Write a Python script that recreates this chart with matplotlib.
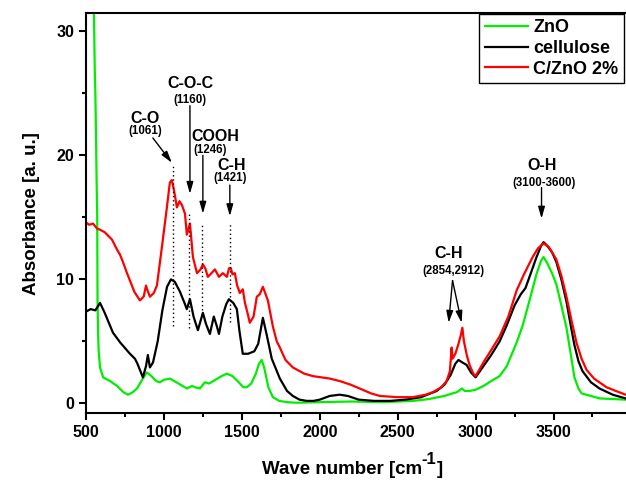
import matplotlib
matplotlib.use("Agg")
import matplotlib.pyplot as plt
from matplotlib.ticker import MultipleLocator, FixedLocator

plt.rcParams['font.family'] = ['Liberation Sans', 'DejaVu Sans']
plt.rcParams['font.weight'] = 'bold'

# --- data ---
zno_x = [545, 551, 556, 560, 564, 568, 572, 574, 578, 581, 590, 610, 654, 700, 740, 770, 800, 827,
         860, 890, 920, 950, 974, 1000, 1038, 1080, 1120, 1147, 1180, 1200, 1231, 1263, 1290, 1330,
         1370, 1404, 1440, 1480, 1510, 1532, 1560, 1590, 1610, 1628, 1645, 1670, 1699, 1740, 1789,
         1850, 2000, 2200, 2400, 2600, 2700, 2800, 2850, 2880, 2912, 2930, 2960, 3000, 3050, 3100,
         3154, 3200, 3263, 3300, 3346, 3390, 3420, 3436, 3460, 3490, 3518, 3550, 3583, 3610, 3634,
         3660, 3680, 3740, 3795, 3880, 3962, 4000]
zno_y = [40.0, 31.5, 27.0, 25.0, 21.8, 18.0, 15.0, 8.3, 5.5, 4.3, 2.9, 2.1, 1.8, 1.4, 0.9, 0.7, 0.9, 1.2,
         1.9, 2.5, 2.2, 1.8, 1.7, 1.9, 2.0, 1.7, 1.4, 1.2, 1.4, 1.3, 1.2, 1.7, 1.6, 1.9,
         2.2, 2.4, 2.2, 1.7, 1.3, 1.3, 1.6, 2.4, 3.2, 3.5, 2.8, 1.3, 0.5, 0.2, 0.1,
         0.05, 0.1, 0.15, 0.1, 0.2, 0.35, 0.6, 0.8, 0.9, 1.2, 1.0, 1.0, 1.1, 1.4, 1.8,
         2.2, 3.0, 4.9, 6.2, 8.3, 10.4, 11.5, 11.8, 11.3, 10.5, 9.6, 7.9, 6.1, 4.0, 2.1,
         1.2, 0.8, 0.6, 0.4, 0.35, 0.3, 0.3]

cel_x = [500, 530, 560, 590, 620, 673, 720, 782, 814, 830, 865, 885, 897, 910, 930, 960, 990, 1020,
         1045, 1070, 1103, 1135, 1147, 1167, 1190, 1218, 1250, 1270, 1295, 1320, 1340, 1353, 1375,
         1400, 1417, 1445, 1468, 1485, 1506, 1540, 1580, 1605, 1635, 1660, 1692, 1744, 1790, 1827,
         1870, 1916, 1960, 2000, 2064, 2128, 2180, 2250, 2350, 2450, 2550, 2650, 2750, 2800, 2840,
         2870, 2890, 2915, 2942, 2970, 3000, 3050, 3100, 3154, 3200, 3250, 3290, 3320, 3360, 3391,
         3420, 3436, 3460, 3490, 3518, 3550, 3583, 3610, 3634, 3660, 3686, 3740, 3795, 3880, 3962, 4000]
cel_y = [7.4, 7.6, 7.5, 8.1, 7.3, 5.7, 4.9, 4.0, 3.6, 3.2, 2.1, 3.0, 3.9, 2.9, 3.3, 5.0, 7.5, 9.4,
         10.0, 9.8, 9.0, 8.0, 7.6, 8.4, 7.0, 5.9, 7.3, 6.4, 5.6, 7.0, 6.2, 5.6, 7.0,
         8.0, 8.4, 8.1, 7.6, 5.8, 4.0, 4.0, 4.2, 4.8, 6.9, 5.5, 3.6, 2.0, 1.0, 0.6,
         0.3, 0.2, 0.2, 0.3, 0.6, 0.7, 0.6, 0.3, 0.2, 0.2, 0.3, 0.5, 1.0, 1.5, 2.3,
         3.2, 3.5, 3.3, 3.1, 2.5, 2.1, 3.0, 3.9, 5.0, 6.3, 7.9, 8.8, 9.3, 10.7, 11.8,
         12.7, 13.0, 12.7, 12.2, 11.4, 10.0, 8.2, 6.3, 4.7, 3.4, 2.6, 1.7, 1.2, 0.7, 0.4, 0.35]

czno_x = [500, 520, 545, 570, 590, 620, 667, 699, 718, 737, 760, 782, 810, 846, 870, 885, 895, 910,
          935, 955, 987, 1019, 1038, 1050, 1058, 1070, 1083, 1100, 1115, 1135, 1147, 1167, 1186, 1212,
          1235, 1250, 1265, 1282, 1305, 1327, 1353, 1378, 1404, 1418, 1429, 1440, 1455, 1470, 1487,
          1506, 1520, 1538, 1551, 1575, 1596, 1615, 1635, 1667, 1699, 1724, 1744, 1780, 1827, 1900,
          1955, 2064, 2128, 2200, 2256, 2330, 2385, 2500, 2596, 2680, 2725, 2780, 2814, 2835, 2846,
          2852, 2870, 2890, 2905, 2915, 2925, 2945, 2961, 2985, 3000, 3050, 3100, 3154, 3210, 3263,
          3310, 3366, 3400, 3436, 3470, 3518, 3550, 3583, 3615, 3647, 3680, 3712, 3760, 3840, 3900,
          3962, 4000]
czno_y = [14.6, 14.4, 14.5, 14.1, 14.0, 13.8, 13.2, 12.4, 12.0, 11.4, 10.6, 9.9, 9.0, 8.3, 8.6, 9.5, 9.1, 8.6,
          8.9, 9.5, 12.6, 15.8, 17.8, 18.0, 17.6, 16.8, 15.8, 16.3, 16.0, 15.3, 13.6, 14.5, 11.8, 10.5,
          10.8, 11.2, 10.9, 10.2, 10.5, 10.8, 10.2, 10.5, 10.2, 10.9, 10.9, 10.4, 10.5, 9.5, 8.9,
          9.2, 8.1, 7.2, 6.5, 7.0, 8.6, 8.8, 9.4, 8.3, 6.2, 5.0, 4.5, 3.5, 2.9, 2.4,
          2.2, 2.0, 1.8, 1.5, 1.2, 0.8, 0.6, 0.5, 0.5, 0.7, 0.9, 1.3, 1.8, 2.6, 4.5,
          3.6, 4.0, 4.8, 5.5, 6.1, 5.0, 3.8, 3.1, 2.4, 2.2, 3.3, 4.3, 5.4, 7.0, 9.1,
          10.4, 11.8, 12.5, 12.9, 12.6, 11.6, 10.3, 8.6, 6.7, 4.9, 3.6, 2.7, 2.0, 1.3, 1.0,
          0.7, 0.6]

# peak labels
peak_names = ['C-O', 'C-O-C', 'COOH', 'C-H', 'C-H', 'O-H']
peak_subs = ['(1061)', '(1160)', '(1246)', '(1421)', '(2854,2912)', '(3100-3600)']
peak_text_x = [878, 1167, 1327, 1436, 2827, 3425]
peak_sub_x = [878, 1167, 1295, 1423, 2860, 3440]
peak_text_y = [23.0, 25.8, 21.5, 19.2, 12.1, 19.2]
peak_sub_y = [22.0, 24.5, 20.4, 18.2, 10.7, 17.8]

# dotted guide lines: wavenumber, top, bottom
guide_x = [1061, 1160, 1246, 1421]
guide_top = [19.2, 15.4, 14.5, 14.5]
guide_bottom = [6.2, 6.1, 7.5, 6.6]

# arrows: start (x, y) -> end (x, y)
arrow_start = [(929, 21.4), (1167, 24.0), (1250, 20.0), (1423, 17.6), (2852, 9.9), (2852, 9.9), (3423, 17.4)]
arrow_end = [(1051, 19.4), (1167, 16.9), (1250, 15.3), (1423, 15.1), (2827, 6.5), (2910, 6.5), (3423, 14.9)]

fig = plt.figure(figsize=(6.26, 4.86), dpi=100)
ax = fig.add_axes([86 / 626, 1 - 413.3 / 486, 1 - 86 / 626, (413.3 - 13.3) / 486])

ax.plot(zno_x, zno_y, color='#00ee00', lw=1.6, label='ZnO')
ax.plot(cel_x, cel_y, color='black', lw=1.6, label='cellulose')
ax.plot(czno_x, czno_y, color='#ff0000', lw=1.6, label='C/ZnO 2%')

for gx, gt, gb in zip(guide_x, guide_top, guide_bottom):
    ax.plot([gx, gx], [gb, gt], color='black', ls=(0, (1, 2)), lw=1.0)

for (sx, sy), (ex, ey) in zip(arrow_start, arrow_end):
    ax.annotate('', xy=(ex, ey), xytext=(sx, sy),
                arrowprops=dict(arrowstyle='-|>,head_length=0.7,head_width=0.2',
                                color='black', lw=1.0, shrinkA=0, shrinkB=0))

for name, sub, tx, sx, ty, sy in zip(peak_names, peak_subs, peak_text_x, peak_sub_x,
                                     peak_text_y, peak_sub_y):
    ax.text(tx, ty, name, ha='center', va='center', fontsize=11.5, fontweight='bold')
    ax.text(sx, sy, sub, ha='center', va='center', fontsize=8.3, fontweight='bold')

ax.set_xlim(500, 3965)
ax.set_ylim(-0.8, 31.45)
ax.xaxis.set_major_locator(FixedLocator([500, 1000, 1500, 2000, 2500, 3000, 3500]))
ax.xaxis.set_minor_locator(FixedLocator([750, 1250, 1750, 2250, 2750, 3250, 3750]))
ax.yaxis.set_major_locator(MultipleLocator(10))
ax.yaxis.set_minor_locator(MultipleLocator(5))
ax.tick_params(which='major', direction='out', length=5, width=1.5, labelsize=11.5)
ax.tick_params(which='minor', direction='out', length=3, width=1.5)
for lab in ax.get_xticklabels() + ax.get_yticklabels():
    lab.set_fontweight('bold')
for side in ['left', 'bottom', 'top']:
    ax.spines[side].set_linewidth(1.5)
ax.spines['right'].set_visible(False)

ax.set_ylabel('Absorbance [a. u.]', fontsize=13.5, fontweight='bold', labelpad=12)

# x label with a large hyphen superscript, built from three pieces
fig.canvas.draw()
rend = fig.canvas.get_renderer()
base_y = 1 - 474 / 486
parts = [('Wave number [cm', 13.5, 0), ('-1', 12, 10), (']', 13.5, 0)]
widths = []
for txt, size, _ in parts:
    t = fig.text(0, 0, txt, fontsize=size, fontweight='bold')
    widths.append(t.get_window_extent(rend).width)
    t.remove()
x_px = 352 - sum(widths) / 2
for (txt, size, rise), w in zip(parts, widths):
    fig.text(x_px / 626, base_y + rise / 486, txt, fontsize=size, fontweight='bold',
             ha='left', va='baseline')
    x_px += w

leg = ax.legend(loc='upper right', bbox_to_anchor=(624 / 626, 1 - 14 / 486),
                bbox_transform=fig.transFigure, borderaxespad=0, fancybox=False,
                edgecolor='black', framealpha=1, fontsize=13, handlelength=2.4,
                handletextpad=0.3, labelspacing=0.2, borderpad=0.3)
leg.get_frame().set_linewidth(1.0)
for t in leg.get_texts():
    t.set_fontweight('bold')

fig.savefig('out.png', dpi=100)
